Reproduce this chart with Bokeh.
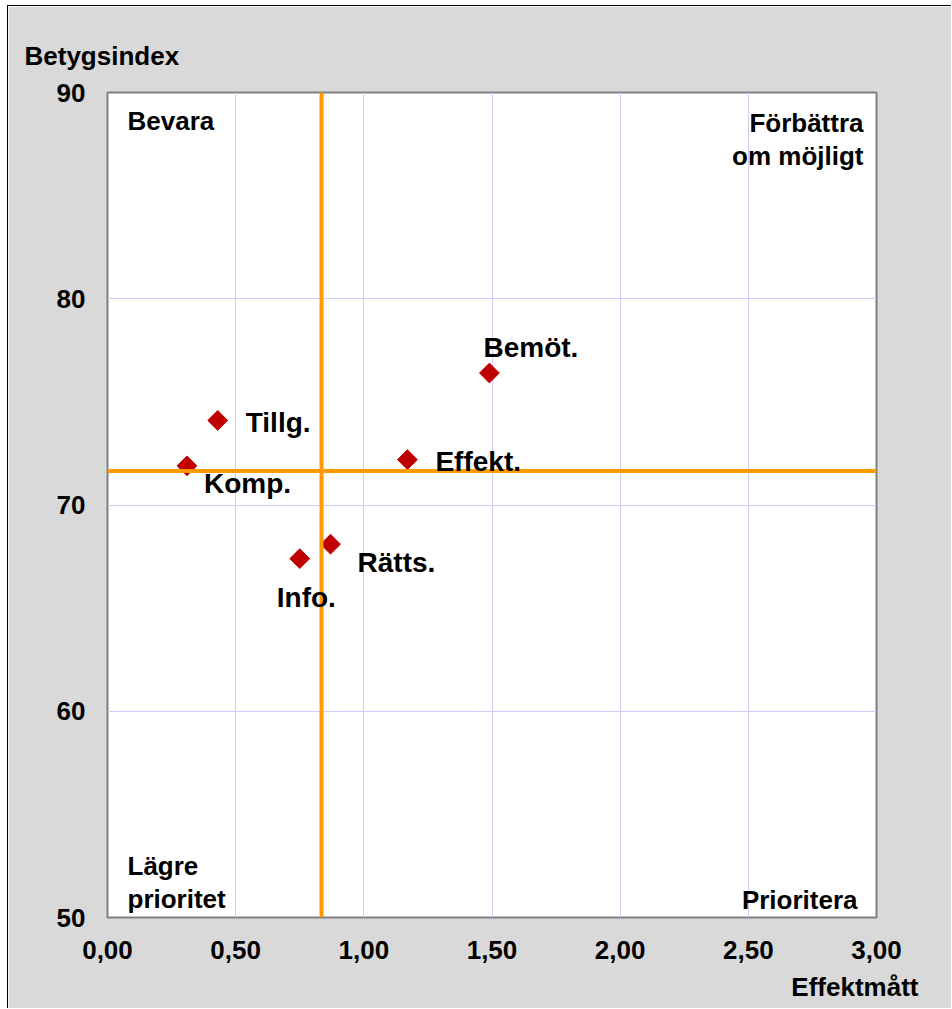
from bokeh.plotting import figure
from bokeh.models import Label, Span, FixedTicker, ColumnDataSource, Title
from bokeh.embed import file_html
from bokeh.resources import INLINE

# ---- data ----
names = ["Bemöt.", "Tillg.", "Komp.", "Effekt.", "Rätts.", "Info."]
effekt = [1.49, 0.43, 0.31, 1.17, 0.87, 0.75]
betyg = [76.4, 74.1, 71.9, 72.2, 68.1, 67.4]
mean_effekt = 0.835
mean_betyg = 71.65
x_ticks = [0, 0.5, 1.0, 1.5, 2.0, 2.5, 3.0]
x_tick_labels = ["0,00", "0,50", "1,00", "1,50", "2,00", "2,50", "3,00"]
y_ticks = [50, 60, 70, 80, 90]
y_tick_labels = ["50", "60", "70", "80", "90"]

# label offsets (screen px, +y = up)
label_dx = [-6, 28, 17, 28, 27, -23]
label_dy = [26, -2, -18, -2, -18, -39]

FONT = "Liberation Sans"
BG = "#d9d9d9"

p = figure(width=944, height=1003, x_range=(0, 3), y_range=(50, 90),
           output_backend="svg", toolbar_location=None,
           min_border_left=99, min_border_right=76,
           min_border_top=86, min_border_bottom=91)
p.styles = {"margin-left": "7px", "margin-top": "5px",
            "border-left": "1px solid black", "border-top": "1px solid black"}
p.background_fill_color = "white"
p.border_fill_color = BG
p.outline_line_color = "#808080"
p.outline_line_width = 2

for ax, ticks, labels in ((p.xaxis[0], x_ticks, x_tick_labels), (p.yaxis[0], y_ticks, y_tick_labels)):
    ax.ticker = FixedTicker(ticks=ticks)
    ax.major_label_overrides = {t: l for t, l in zip(ticks, labels)}
    ax.axis_line_color = None
    ax.major_tick_line_color = None
    ax.minor_tick_line_color = None
    ax.major_tick_out = 0
    ax.major_tick_in = 0
    ax.major_label_text_font = FONT
    ax.major_label_text_font_style = "bold"
    ax.major_label_text_font_size = "26px"
    ax.major_label_text_color = "black"
    ax.major_label_text_line_height = 1.0
p.xaxis.major_label_standoff = 23
p.yaxis.major_label_standoff = 22

p.xgrid.ticker = FixedTicker(ticks=x_ticks)
p.ygrid.ticker = FixedTicker(ticks=y_ticks)
p.grid.grid_line_color = "#ccccff"
p.grid.grid_line_width = 1

p.add_layout(Span(location=mean_effekt, dimension="height", line_color="#ff9900", line_width=4))
p.add_layout(Span(location=mean_betyg, dimension="width", line_color="#ff9900", line_width=4))

src = ColumnDataSource(dict(x=effekt, y=betyg, name=names))
p.scatter("x", "y", source=src, marker="square", size=14, angle=0.785398,
          fill_color="#c00000", line_color="#c00000")

def lab(x, y, text, dx, dy, align="left", size="26px", baseline="middle"):
    p.add_layout(Label(x=x, y=y, text=text, x_offset=dx, y_offset=dy,
                       text_font=FONT, text_font_style="bold", text_font_size=size,
                       text_align=align, text_baseline=baseline, text_color="black",
                       text_line_height=1.1))

for n, xv, yv, dx, dy in zip(names, effekt, betyg, label_dx, label_dy):
    lab(xv, yv, n, dx, dy, size="28px")

# quadrant texts
lab(0, 90, "Bevara", 20, -28)
lab(3, 90, "Förbättra\nom möjligt", -13, -15, align="right", baseline="top")
lab(0, 50, "Lägre\nprioritet", 20, 4, baseline="bottom")
lab(3, 50, "Prioritera", -19, 18, align="right")

# axis titles
p.title = Title(text="Betygsindex", align="left", offset=-83, standoff=44,
                text_font=FONT, text_font_style="bold", text_font_size="26px",
                text_color="black", text_line_height=1.0)
p.add_layout(Title(text="Effektmått", align="right", offset=-42, standoff=16,
                   text_font=FONT, text_font_style="bold", text_font_size="26px",
                   text_color="black", text_line_height=1.0), "below")

open("out.html", "w").write(file_html(p, INLINE))
